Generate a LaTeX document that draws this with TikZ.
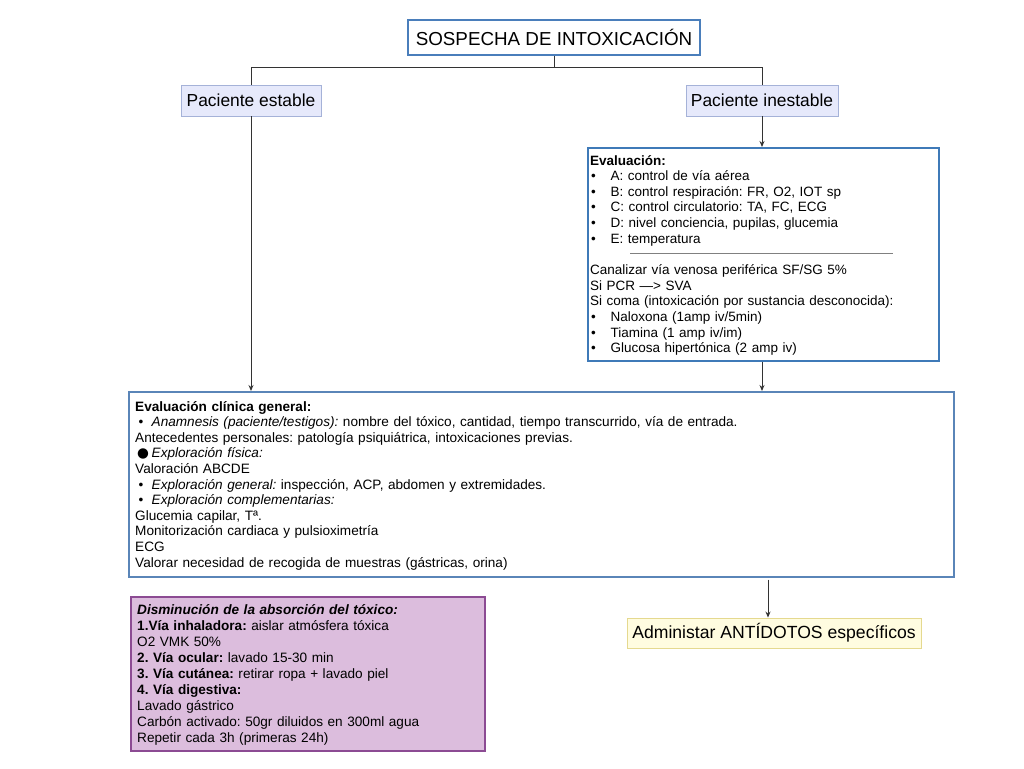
\documentclass[tikz,border=0pt]{standalone}
\usepackage{fontspec}
\setmainfont{Liberation Sans}
\newfontfamily\dejavu{DejaVu Sans}
\usetikzlibrary{arrows.meta}
\definecolor{titleblue}{HTML}{4A7EBB}
\definecolor{pfill}{HTML}{E6E9FB}
\definecolor{pborder}{HTML}{A5B2D8}
\definecolor{evblue}{HTML}{3F7AB8}
\definecolor{bigblue}{HTML}{5A85B8}
\definecolor{purfill}{HTML}{DCBDDD}
\definecolor{purborder}{HTML}{8C4B93}
\definecolor{antfill}{HTML}{FFFCE0}
\definecolor{antborder}{HTML}{E5D98F}
\definecolor{connc}{HTML}{333333}
\newcommand{\bua}{\makebox[20.5pt][l]{\hspace{1pt}•}}
\newcommand{\bub}{\makebox[16.5pt][l]{\hspace{3.5pt}•}}
\newcommand{\buc}{\makebox[16.5pt][l]{\hspace{2pt}{\dejavu ●}}}
\frenchspacing
\begin{document}
\frenchspacing
\begin{tikzpicture}[x=1pt,y=-1pt,
  boxbase/.style={inner sep=0pt, anchor=north west},
  body/.style={anchor=base west, inner sep=0pt, align=left, text width=#1},
  body/.default=800pt,
  conn/.style={draw=connc, line width=0.9pt},
  arr/.style={conn, -{Stealth[length=6pt,width=5pt]}},
  titlebox/.style={draw=titleblue, line width=1.6pt, fill=white, inner sep=0pt,
    minimum width=292pt, minimum height=35pt, font=\fontsize{18.8}{22}\selectfont},
  pbox/.style={draw=pborder, line width=0.9pt, fill=pfill, inner sep=0pt,
    minimum height=31pt, font=\fontsize{17.4}{20}\selectfont},
  antbox/.style={draw=antborder, line width=0.9pt, fill=antfill, inner sep=0pt,
    minimum height=30pt, minimum width=294pt, font=\fontsize{17.6}{20}\selectfont}
]
\useasboundingbox[fill=white] (0,0) rectangle (1024,768);

% title and patient boxes
\node[titlebox] (title) at (554,37.5) {SOSPECHA DE INTOXICACIÓN};
\node[pbox, minimum width=140pt] (pe) at (251,100.5) {Paciente estable};
\node[pbox, minimum width=152pt] (pi) at (762,100.5) {Paciente inestable};

% evaluation box
\node[boxbase, draw=evblue, line width=1.6pt, fill=white,
  minimum width=351pt, minimum height=213pt] (ev) at (587,147) {};
\node[body, font=\fontsize{13.5}{15.65}\selectfont] (evt) at (590,165) {%
\textbf{Evaluación:}\\
\bua A: control de vía aérea\\
\bua B: control respiración: FR, O2, IOT sp\\
\bua C: control circulatorio: TA, FC, ECG\\
\bua D: nivel conciencia, pupilas, glucemia\\
\bua E: temperatura\\
\mbox{}\\
Canalizar vía venosa periférica SF/SG 5\%\\
Si PCR —> SVA\\
Si coma (intoxicación por sustancia desconocida):\\
\bua Naloxona (1amp iv/5min)\\
\bua Tiamina (1 amp iv/im)\\
\bua Glucosa hipertónica (2 amp iv)};
\draw[draw=gray, line width=0.9pt] (630,253) -- (893,253);

% general clinical evaluation
\node[boxbase, draw=bigblue, line width=1.6pt, fill=white,
  minimum width=825pt, minimum height=185pt] (big) at (128,391) {};
\node[body, font=\fontsize{13.6}{15.6}\selectfont] (bigt) at (135,411) {%
\textbf{Evaluación clínica general:}\\
\bub\textit{Anamnesis (paciente/testigos):} nombre del tóxico, cantidad, tiempo transcurrido, vía de entrada.\\
Antecedentes personales: patología psiquiátrica, intoxicaciones previas.\\
\buc\textit{Exploración física:}\\
Valoración ABCDE\\
\bub\textit{Exploración general:} inspección, ACP, abdomen y extremidades.\\
\bub\textit{Exploración complementarias:}\\
Glucemia capilar, Tª.\\
Monitorización cardiaca y pulsioximetría\\
ECG\\
Valorar necesidad de recogida de muestras (gástricas, orina)};

% absorption box
\node[boxbase, draw=purborder, line width=1.6pt, fill=purfill,
  minimum width=354pt, minimum height=154pt] (pur) at (130,596) {};
\node[body, font=\fontsize{13.6}{16}\selectfont] (purt) at (137,614) {%
\textbf{\textit{Disminución de la absorción del tóxico:}}\\
\textbf{1.Vía inhaladora:} aislar atmósfera tóxica\\
O2 VMK 50\%\\
\textbf{2. Vía ocular:} lavado 15-30 min\\
\textbf{3. Vía cutánea:} retirar ropa + lavado piel\\
\textbf{4. Vía digestiva:}\\
Lavado gástrico\\
Carbón activado: 50gr diluidos en 300ml agua\\
Repetir cada 3h (primeras 24h)};

% antidotes
\node[antbox] (ant) at (774,633) {Administar ANTÍDOTOS específicos};

% connectors
\draw[conn] (title.south) -- ++(0,12) coordinate (split);
\draw[conn] (pe.north) |- (split) -| (pi.north);
\draw[arr] (pe.south) -- (pe.south |- big.north);
\draw[arr] (pi.south) -- (pi.south |- ev.north);
\draw[arr] (pi.south |- ev.south) -- (pi.south |- big.north);
\coordinate (antx) at (768,0);
\draw[arr, shorten <=2pt] (antx |- big.south) -- (antx |- ant.north);
\end{tikzpicture}
\end{document}
